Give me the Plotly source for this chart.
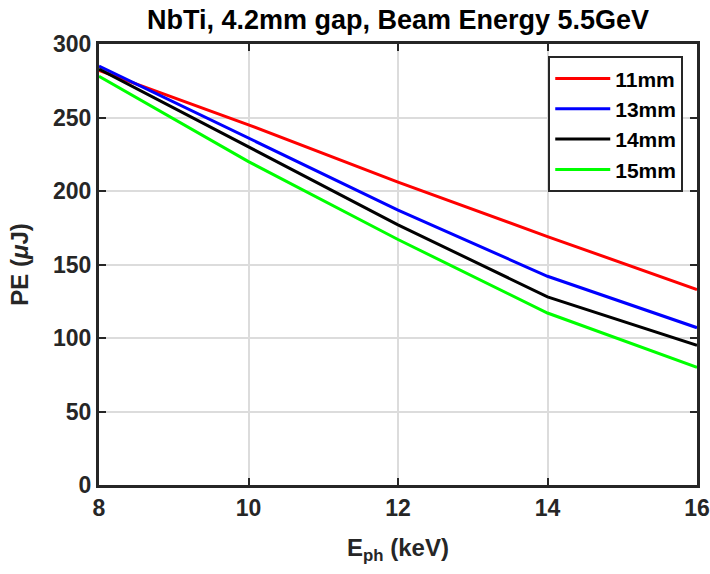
import plotly.graph_objects as go

eph = [8, 10, 12, 14, 16]
pe_11mm = [282, 245, 206, 169, 133]
pe_13mm = [285, 236, 187, 142, 107]
pe_14mm = [283, 230, 177, 128, 95]
pe_15mm = [278, 220, 167, 117, 80]
tick_y = [0, 50, 100, 150, 200, 250, 300]

series = [("11mm", pe_11mm, "#ff0000"), ("13mm", pe_13mm, "#0000ff"),
          ("14mm", pe_14mm, "#000000"), ("15mm", pe_15mm, "#00ff00")]

fig = go.Figure()
for name, vals, col in series:
    fig.add_trace(go.Scatter(x=eph, y=vals, mode="lines", name="<b>" + name + "</b>",
                             line=dict(color=col, width=3)))

fam = "Arial, Liberation Sans, sans-serif"
axis_common = dict(showline=True, linecolor="#262626", linewidth=3, mirror="ticks",
                   ticks="inside", ticklen=7, tickwidth=2, tickcolor="#262626",
                   showgrid=True, gridcolor="#dcdcdc", gridwidth=2, zeroline=False,
                   automargin=False,
                   tickfont=dict(size=23, color="#262626", family=fam))

fig.update_layout(
    width=710, height=574,
    margin=dict(l=99, r=13, t=44, b=89),
    paper_bgcolor="white", plot_bgcolor="white",
    font=dict(family=fam, size=20, color="#262626"),
    title=dict(text="<b>NbTi, 4.2mm gap, Beam Energy 5.5GeV</b>", x=0.5, xanchor="center",
               xref="paper", y=1 - 20 / 574, yanchor="middle",
               font=dict(size=27, color="#000000")),
    xaxis=dict(range=[8, 16], tickvals=eph,
               ticktext=["<b>%d</b>" % v for v in eph],
               title=dict(text="<b>E<sub>ph</sub> (keV)</b>", standoff=20,
                          font=dict(size=24, color="#262626")),
               **axis_common),
    yaxis=dict(range=[0, 300], tickvals=tick_y,
               ticktext=["<b>%d</b>" % v for v in tick_y],
               title=dict(text="<b>PE (<i>μ</i>J)</b>", standoff=18,
                          font=dict(size=24, color="#262626")),
               **axis_common),
    legend=dict(x=0.977, xanchor="right", y=0.972, yanchor="top",
                bgcolor="white", bordercolor="#262626", borderwidth=2,
                font=dict(size=21, color="#000000", family=fam), tracegroupgap=0,
                itemwidth=55),
    showlegend=True,
)

fig.write_html("out.html", config={"displayModeBar": False},
               post_script="document.body.style.margin='0';")
